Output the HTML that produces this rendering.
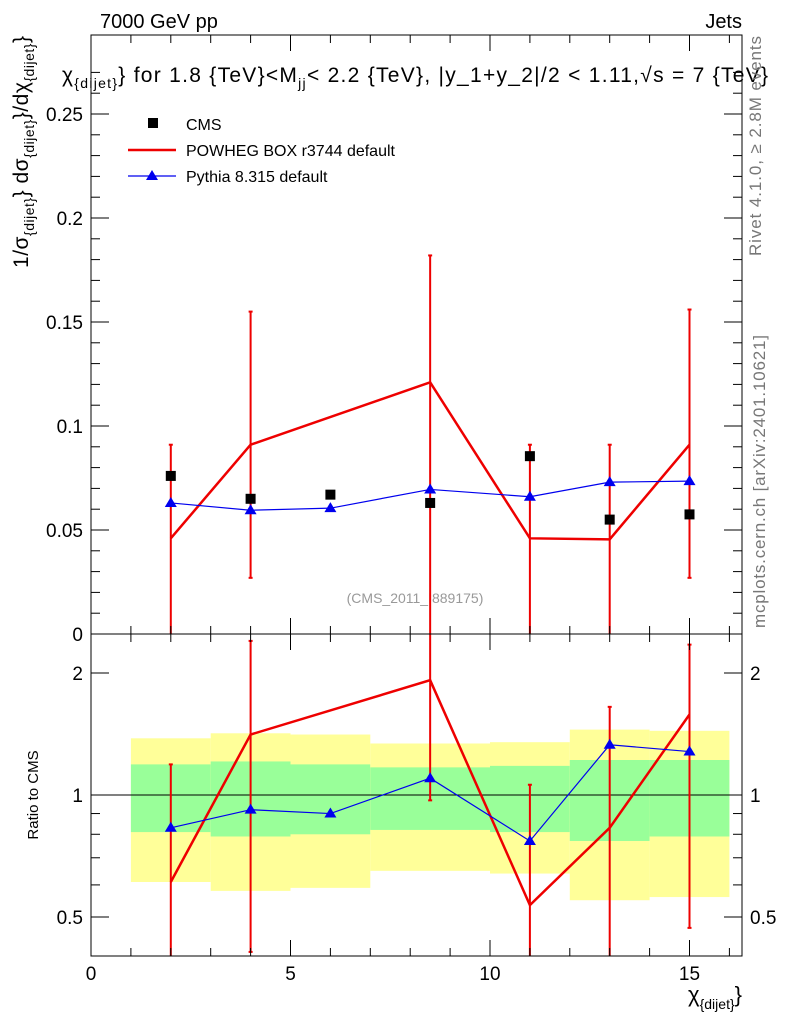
<!DOCTYPE html>
<html><head><meta charset="utf-8"><style>
html,body{margin:0;padding:0;background:#fff;}
svg{display:block;font-family:"Liberation Sans",sans-serif;}
</style></head><body>
<svg id="chart" width="786" height="1024" viewBox="0 0 786 1024">
<text x="100" y="28" font-size="20">7000 GeV pp</text>
<text x="742" y="28" font-size="20" text-anchor="end">Jets</text>
<text x="62" y="82" font-size="21" textLength="706" lengthAdjust="spacing">χ<tspan font-size="14" dy="6">{dijet}</tspan><tspan dy="-6">} for 1.8 {TeV}&lt;M</tspan><tspan font-size="14" dy="6">jj</tspan><tspan dy="-6">&lt; 2.2 {TeV}, |y_1+y_2|/2 &lt; 1.11,√s = 7 {TeV}</tspan></text>
<text transform="translate(761,36) rotate(-90)" font-size="17" fill="#777" text-anchor="end" textLength="220">Rivet 4.1.0, ≥ 2.8M events</text>
<text transform="translate(765,628) rotate(-90)" font-size="17" fill="#777" textLength="293">mcplots.cern.ch [arXiv:2401.10621]</text>
<text transform="translate(28,36) rotate(-90)" font-size="21" text-anchor="end" textLength="232">1/σ<tspan font-size="14" dy="6">{dijet}</tspan><tspan dy="-6">} dσ</tspan><tspan font-size="14" dy="6">{dijet}</tspan><tspan dy="-6">}/dχ</tspan><tspan font-size="14" dy="6">{dijet}</tspan><tspan dy="-6">}</tspan></text>
<text transform="translate(38,795) rotate(-90)" font-size="15" text-anchor="middle">Ratio to CMS</text>
<text x="742" y="1002" font-size="22" text-anchor="end">χ<tspan font-size="14" dy="7">{dijet}</tspan><tspan dy="-7">}</tspan></text>
<text x="415" y="603" font-size="14" fill="#999" text-anchor="middle">(CMS_2011_I889175)</text>
<g id="main"></g><g id="ratio"></g><g id="axes"></g>
<g>
<rect x="148" y="118" width="10" height="10" fill="#000"/>
<text x="186" y="130" font-size="16">CMS</text>
<line x1="128" y1="150" x2="176" y2="150" stroke="#e00" stroke-width="2.5"/>
<text x="186" y="156" font-size="16">POWHEG BOX r3744 default</text>
<line x1="128" y1="176" x2="176" y2="176" stroke="#00e" stroke-width="1.2"/>
<path d="M152,170 L158,180 L146,180 Z" fill="#00e"/>
<text x="186" y="182" font-size="16">Pythia 8.315 default</text>
</g>
</svg>
<script>
const xs=[2,4,6,8.5,11,13,15];
const cms=[0.076,0.065,0.067,0.063,0.0855,0.055,0.0575];
const powX=[2,4,8.5,11,13,15];
const pow=[0.046,0.091,0.121,0.046,0.0455,0.091];
const powUp=[0.091,0.155,0.182,0.091,0.091,0.156];
const powDn=[0,0.027,0,0,0,0.027];
const pyt=[0.063,0.0595,0.0605,0.0695,0.066,0.073,0.0735];
const powR=[0.61,1.41,1.92,0.535,0.83,1.58];
const powRUp=[1.19,2.4,3,1.06,1.65,2.35];
const powRDn=[0.3,0.41,0.97,0.3,0.3,0.47];
const pytR=[0.83,0.92,0.9,1.1,0.77,1.33,1.28];
const binEdges=[1,3,5,7,10,12,14,16];
const yelHi=[1.38,1.42,1.41,1.34,1.35,1.45,1.44];
const yelLo=[0.61,0.58,0.59,0.65,0.64,0.55,0.56];
const grnHi=[1.19,1.21,1.19,1.17,1.18,1.22,1.22];
const grnLo=[0.81,0.79,0.80,0.82,0.81,0.77,0.79];
const xTicks=[0,5,10,15];
const yTicks=[0.05,0.1,0.15,0.2,0.25];
const yTickLabels=["0.05","0.1","0.15","0.2","0.25"];
const rTicks=[0.5,1,2];

const L=91,R=742,T=35,M=634,B=956;
const X=v=>L+v*39.9;
const Y=v=>M-v*2080;
const RY=v=>Math.min(B,Math.max(M,795-Math.log2(v)*122));
const NS="http://www.w3.org/2000/svg";
function mk(parent,tag,attrs){const e=document.createElementNS(NS,tag);for(const k in attrs)e.setAttribute(k,attrs[k]);document.getElementById(parent).appendChild(e);return e;}

for(let i=0;i<yelHi.length;i++){
 let e=mk('ratio','rect',{x:X(binEdges[i]),y:RY(yelHi[i]),width:X(binEdges[i+1])-X(binEdges[i]),height:RY(yelLo[i])-RY(yelHi[i]),fill:'#ffff99'});
 
 
 e=mk('ratio','rect',{x:X(binEdges[i]),y:RY(grnHi[i]),width:X(binEdges[i+1])-X(binEdges[i]),height:RY(grnLo[i])-RY(grnHi[i]),fill:'#99ff99'});
 
 
}
let ln=mk('ratio','line',{x1:L,x2:R,y1:RY(1),y2:RY(1),stroke:'#000','stroke-width':1});



function errs(g,xv,up,dn,fy){
 for(let i=0;i<xv.length;i++){
  const a=Math.max(fy(up[i]),g=='main'?T:M), b=Math.min(fy(dn[i]),g=='main'?M:B);
  const e=mk(g,'line',{x1:X(xv[i]),x2:X(xv[i]),y1:a,y2:b,stroke:'#e00','stroke-width':2});
  
  
  for(const yy of [a,b]){if(yy>(g=='main'?T:M)+1&&yy<(g=='main'?M:B)-1){const c=mk(g,'line',{x1:X(xv[i])-2,x2:X(xv[i])+2,y1:yy,y2:yy,stroke:'#e00','stroke-width':2});
  
  }}
 }
}
errs('main',powX,powUp,powDn,Y);
errs('ratio',powX,powRUp,powRDn,RY);

let p=mk('main','polyline',{points:powX.map((x,i)=>X(x)+','+Y(pow[i])).join(' '),fill:'none',stroke:'#e00','stroke-width':2.5});


p=mk('ratio','polyline',{points:powX.map((x,i)=>X(x)+','+RY(powR[i])).join(' '),fill:'none',stroke:'#e00','stroke-width':2.5});


p=mk('main','polyline',{points:xs.map((x,i)=>X(x)+','+Y(pyt[i])).join(' '),fill:'none',stroke:'#00e','stroke-width':1.2});


p=mk('ratio','polyline',{points:xs.map((x,i)=>X(x)+','+RY(pytR[i])).join(' '),fill:'none',stroke:'#00e','stroke-width':1.2});


for(let i=0;i<xs.length;i++){
 let t=mk('main','path',{d:`M${X(xs[i])},${Y(pyt[i])-6} l6,10 l-12,0 Z`,fill:'#00e'});
 
 
 t=mk('ratio','path',{d:`M${X(xs[i])},${RY(pytR[i])-6} l6,10 l-12,0 Z`,fill:'#00e'});
 
 
 const c=mk('main','rect',{x:X(xs[i])-5,y:Y(cms[i])-5,width:10,height:10,fill:'#000'});
 
 
}

function fr(y1,y2,name){const r=mk('axes','rect',{x:L,y:y1,width:R-L,height:y2-y1,fill:'none',stroke:'#000','stroke-width':1});

}
fr(T,M,'main-frame');fr(M,B,'ratio-frame');
for(let v=0;v<=16.3;v+=1){const big=v%5==0;const l=big?16:8;
 for(const [a,b] of [[M,M-l],[T,T+l],[B,B-l],[M,M+l]]){const e=mk('axes','line',{x1:X(v),x2:X(v),y1:a,y2:b,stroke:'#000'});
 
 }}
xTicks.forEach(v=>{const t=mk('axes','text',{x:X(v),y:980,'font-size':19,'text-anchor':'middle'});t.textContent=v;

});
for(let v=0;v<=0.28;v+=0.01){const big=Math.round(v*100)%5==0;const l=big?18:9;
 for(const [a,b] of [[L,L+l],[R,R-l]]){const e=mk('axes','line',{x1:a,x2:b,y1:Y(v),y2:Y(v),stroke:'#000'});
 
 }}
yTicks.forEach((v,i)=>{const t=mk('axes','text',{x:83,y:Y(v)+7,'font-size':19,'text-anchor':'end'});t.textContent=yTickLabels[i];

});
let z=mk('axes','text',{x:83,y:641,'font-size':19,'text-anchor':'end'});z.textContent='0';


[0.4,0.5,0.6,0.7,0.8,0.9,1,2].forEach(v=>{const big=rTicks.includes(v);const l=big?18:9;
 for(const [a,b] of [[L,L+l],[R,R-l]]){const e=mk('axes','line',{x1:a,x2:b,y1:RY(v),y2:RY(v),stroke:'#000'});
 
 }});
rTicks.forEach(v=>{for(const [x,an] of [[83,'end'],[750,'start']]){const t=mk('axes','text',{x:x,y:RY(v)+7,'font-size':19,'text-anchor':an});t.textContent=v;

}});
</script>
</body></html>
